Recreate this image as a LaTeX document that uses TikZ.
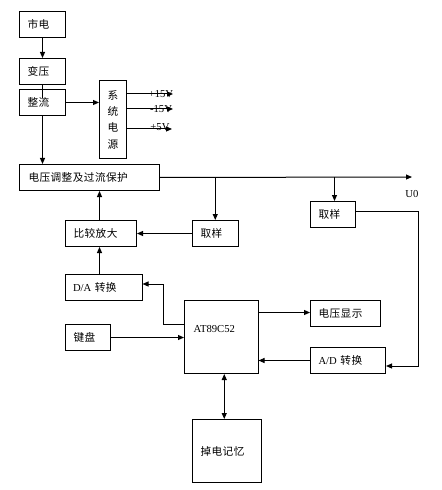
\documentclass[tikz,border=0pt]{standalone}
\usepackage{fontspec}
\setmainfont{Liberation Serif}
\newfontfamily\cjk[LetterSpace=4]{Noto Sans CJK SC}
\newcommand{\zh}[1]{{\cjk #1}}
\usetikzlibrary{arrows.meta}
\begin{document}
\begin{tikzpicture}[x=1bp,y=-1bp, line width=1bp,
  box/.style={draw, rectangle, anchor=north west, inner xsep=8bp, inner ysep=0pt,
    align=left, font=\fontsize{10.7}{12}\selectfont},
  arr/.style={-{Triangle[length=6bp,width=5bp]}},
  darr/.style={{Triangle[length=6bp,width=5bp]}-{Triangle[length=6bp,width=5bp]}},
  lbl/.style={inner sep=0pt, font=\fontsize{10.7}{12}\selectfont}]
\useasboundingbox (0,0) rectangle (442,490);

% boxes
\node[box, text width=30bp, minimum height=26bp] (shidian) at (19,11) {\zh{市电}};
\node[box, text width=30bp, minimum height=26bp] (bianya) at (19,58) {\zh{变压}};
\node[box, text width=30bp, minimum height=26bp] (zhengliu) at (19,89) {\zh{整流}};
\node[draw, rectangle, anchor=north west, minimum width=27bp, minimum height=78bp, inner sep=0pt,
  align=center, font=\fontsize{10.7}{16.4}\selectfont] (xitong) at (99,80) {\zh{系}\\\zh{统}\\\zh{电}\\\zh{源}};
\node[box, text width=122bp, minimum height=26bp, inner xsep=9bp] (tiaozheng) at (19,164) {\zh{电压调整及过流保护}};
\node[box, text width=29.5bp, minimum height=26bp] (quyang1) at (192,220) {\zh{取样}};
\node[box, text width=29bp, minimum height=26bp] (quyang2) at (310,201) {\zh{取样}};
\node[box, text width=55bp, minimum height=26bp] (bijiao) at (65,220) {\zh{比较放大}};
\node[box, text width=61.5bp, minimum height=26bp, inner xsep=7.5bp] (da) at (65,274) {D/A \zh{转换}};
\node[draw, rectangle, anchor=north west, minimum width=73.5bp, minimum height=73bp, inner sep=0pt] (at89) at (184,300) {};
\node[lbl, anchor=west] at ([shift={(9,29)}]at89.north west) {AT89C52};
\node[box, text width=29bp, minimum height=26bp] (jianpan) at (65,324) {\zh{键盘}};
\node[box, text width=54bp, minimum height=26bp] (xianshi) at (310,300) {\zh{电压显示}};
\node[box, text width=59bp, minimum height=26bp] (ad) at (310,347) {A/D \zh{转换}};
\node[box, text width=53bp, minimum height=63bp] (diaodian) at (192,419) {\zh{掉电记忆}};

% power supply outputs
\coordinate (p15) at (173,94);
\coordinate (m15) at (173,109);
\coordinate (p5) at (172,129);
\draw[arr] (xitong.east |- p15) -- (p15);
\draw[arr] (xitong.east |- m15) -- (m15);
\draw[arr] (xitong.east |- p5) -- (p5);
\node[lbl] at (161,94) {+15V};
\node[lbl] at (161,109) {-15V};
\node[lbl] at (160,127) {+5V};

% connectors
\draw[arr] (shidian.south) -- (bianya.north);
\draw (bianya.south) -- ++(0,13);
\draw[arr] (zhengliu.south) -- (zhengliu.south |- tiaozheng.north);
\draw[arr] (zhengliu.east) -- (zhengliu.east -| xitong.west);

\coordinate (u0) at (412,177);
\draw[arr] (tiaozheng.east) -- (u0);
\node[lbl] at (412,194) {U0};
\draw[arr] (tiaozheng.east -| quyang1.north) -- (quyang1.north);
\draw[arr] ([shift={(1.5,0)}]tiaozheng.east -| quyang2.north) -- ([shift={(1.5,0)}]quyang2.north);
\draw[arr] (quyang1.west) -- (quyang1.west -| bijiao.east);
\draw[arr] ([shift={(-1.5,0)}]bijiao.north) -- ([shift={(-1.5,0)}]bijiao.north |- tiaozheng.south);
\draw[arr] ([shift={(-1.5,0)}]bijiao.south |- da.north) -- ([shift={(-1.5,0)}]bijiao.south);

\draw[arr] ([shift={(0,24)}]at89.north west) -- ++(-21,0) |- ([shift={(0,10)}]da.north east);
\draw[arr] (jianpan.east) -- (jianpan.east -| at89.west);
\draw[arr] ([shift={(0,-1)}]xianshi.west -| at89.east) -- ([shift={(0,-1)}]xianshi.west);
\draw[arr] (ad.west) -- (ad.west -| at89.east);
\draw[arr] ([shift={(0,10)}]quyang2.north east) -- ++(62,0) |- ([shift={(0,-8)}]ad.south east);
\draw[darr] ([shift={(3,0)}]at89.south) -- ([shift={(3,0)}]at89.south |- diaodian.north);
\end{tikzpicture}
\end{document}
